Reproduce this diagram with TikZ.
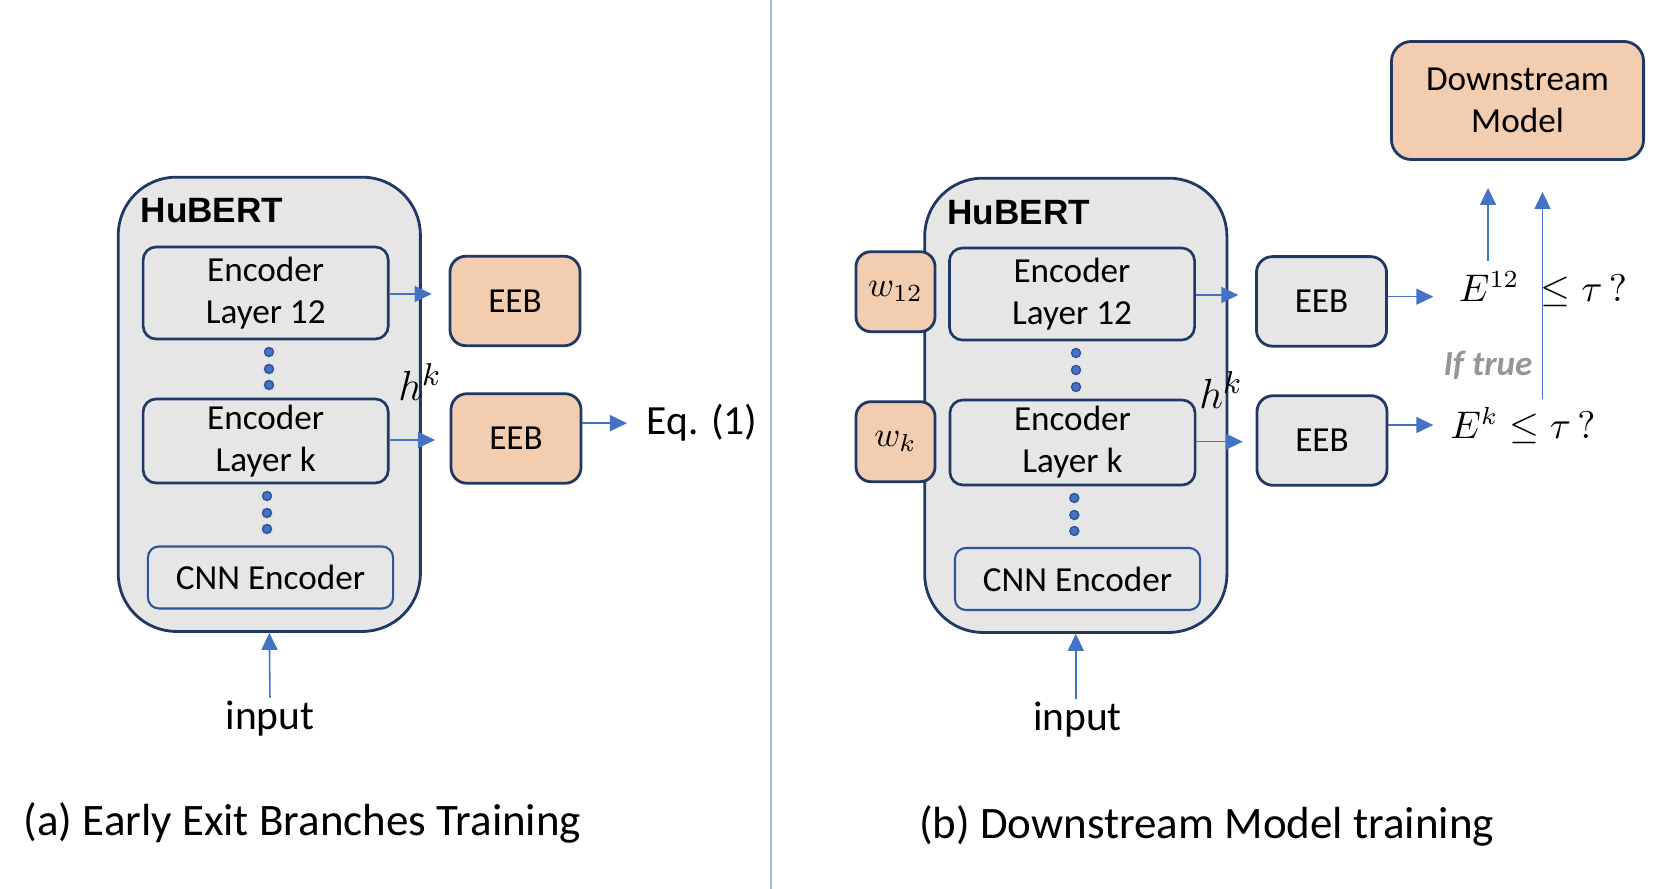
\documentclass[tikz,border=0pt]{standalone}
\usepackage{amsmath}
\usepackage{fontspec}
\setmainfont{Carlito}
\newfontfamily\arialfont{Liberation Sans}
\usepackage{tikz}
\usepackage{xcolor}
\usetikzlibrary{arrows.meta, positioning, calc}
\definecolor{cNavy}{RGB}{32,56,100}
\definecolor{cCnn}{RGB}{47,85,151}
\definecolor{cArrow}{RGB}{68,114,196}
\definecolor{cGrey}{RGB}{231,230,230}
\definecolor{cPeach}{RGB}{243,205,176}
\definecolor{cRule}{RGB}{168,186,224}
\definecolor{cTrue}{RGB}{150,150,150}
\tikzset{
	hubert/.style   ={rectangle, rounded corners=0.58cm, minimum width=3.02cm, minimum height=4.54cm, draw=cNavy, line width=0.8pt, fill=cGrey},
	hublabel/.style ={inner sep=0pt, font=\arialfont\bfseries\fontsize{10}{12}\selectfont},
	encbox/.style   ={rectangle, rounded corners=0.13cm, minimum width=2.45cm, text centered, align=center, inner sep=0pt, draw=cNavy, line width=0.75pt, fill=cGrey, font=\fontsize{10}{11.9}\selectfont},
	cnnbox/.style   ={rectangle, rounded corners=0.11cm, minimum width=2.45cm, minimum height=0.62cm, text centered, draw=cCnn, line width=0.6pt, fill=cGrey, font=\fontsize{10}{12}\selectfont},
	eeb/.style      ={rectangle, rounded corners=0.16cm, minimum width=1.3cm, minimum height=0.895cm, text centered, draw=cNavy, line width=0.8pt, font=\fontsize{10}{12}\selectfont},
	wbox/.style     ={rectangle, rounded corners=0.15cm, minimum width=0.79cm, minimum height=0.8cm, text centered, draw=cNavy, line width=0.8pt, fill=cPeach, font=\fontsize{10}{12}\selectfont},
	modelbox/.style ={rectangle, rounded corners=0.2cm, minimum width=2.52cm, minimum height=1.18cm, text centered, align=center, draw=cNavy, line width=0.8pt, fill=cPeach, font=\fontsize{10}{11.9}\selectfont},
	vdot/.style     ={circle, minimum size=0.09cm, inner sep=0pt, draw=cCnn, line width=0.4pt, fill=cArrow},
	flowarrow/.style={-{Triangle[length=1.7mm, width=1.6mm]}, draw=cArrow, line width=0.45pt},
	% plain labels
	txt/.style      ={inner sep=0pt, font=\fontsize{11.8}{14}\selectfont},
	mathlbl/.style  ={inner sep=0pt, font=\fontsize{10.5}{12}\selectfont},
	caption/.style  ={inner sep=0pt, font=\fontsize{12.8}{15}\selectfont},
}
\begin{document}
\begin{tikzpicture}[x=0.01cm, y=-0.01cm]
	\useasboundingbox (0,0) rectangle (1661,889);
	\coordinate (ruleTop) at (771,0);
	\coordinate (ruleBot) at (771,889);
	\draw[cRule, line width=0.6pt] (ruleTop) -- (ruleBot);

	% (a) early exit branches
	\node[hubert] (hubA) at (269.3,404.3) {};
	\node[hublabel, anchor=west] (hubAname) at (140,211) {HuBERT};
	\node[encbox, minimum height=0.92cm] (encA12) at (265.7,293) {Encoder\\Layer 12};
	\node[encbox, minimum height=0.84cm] (encAk) at (265.7,441) {Encoder\\Layer k};
	\node[cnnbox] (cnnA) at (270.5,577.5) {CNN Encoder};
	\foreach \i/\y in {1/352, 2/369, 3/385} \node[vdot] (dAu\i) at (269,\y) {};
	\foreach \i/\y in {1/496, 2/513, 3/529} \node[vdot] (dAl\i) at (267,\y) {};
	\node[eeb, fill=cPeach] (eebA12) at (515,301) {EEB};
	\node[eeb, fill=cPeach] (eebAk) at (516,438.5) {EEB};
	\node[mathlbl, font=\fontsize{12.5}{14}\selectfont] (hA) at (420,382) {$h^k$};
	\node[txt, anchor=base west] (eqA) at (646,435) {Eq. (1)};
	\node[txt, anchor=base] (inA) at (270,730) {input};
	\coordinate (tipA12) at (431.7,294);
	\coordinate (tipAk) at (435,440);
	\draw[flowarrow] (encA12.east |- tipA12) -- (tipA12);
	\draw[flowarrow] (encAk.east |- tipAk) -- (tipAk);
	\draw[flowarrow, shorten >=0.19cm] (eebAk.east |- eqA.west) -- (eqA.west);
	\draw[flowarrow, shorten <=0.03cm] (inA.north) -- (hubA.south);
	\node[caption, anchor=base] (capA) at (302.5,836) {(a) Early Exit Branches Training};

	% (b) downstream model
	\node[hubert] (hubB) at (1075.8,405.3) {};
	\node[hublabel, anchor=west] (hubBname) at (946.7,213) {HuBERT};
	\node[encbox, minimum height=0.92cm] (encB12) at (1072,294) {Encoder\\Layer 12};
	\node[encbox, minimum height=0.85cm] (encBk) at (1072.5,442.5) {Encoder\\Layer k};
	\node[cnnbox] (cnnB) at (1077.5,579) {CNN Encoder};
	\foreach \i/\y in {1/353, 2/370, 3/387} \node[vdot] (dBu\i) at (1076,\y) {};
	\foreach \i/\y in {1/498, 2/515, 3/531} \node[vdot] (dBl\i) at (1074.3,\y) {};
	\node[wbox] (wB12) at (895.5,291.7) {$w_{12}$};
	\node[wbox] (wBk) at (895.5,441.7) {$w_k$};
	\node[eeb, fill=cGrey] (eebB12) at (1321.5,301.4) {EEB};
	\node[eeb, fill=cGrey] (eebBk) at (1322,440.5) {EEB};
	\node[mathlbl, font=\fontsize{12.5}{14}\selectfont] (hB) at (1221,390) {$h^k$};
	\node[mathlbl] (ex12) at (1543,289) {$E^{12}\;\leq\tau\,?$};
	\node[mathlbl] (exk) at (1523,426) {$E^{k}\leq\tau\,?$};
	\node[mathlbl, font=\fontsize{10}{12}\selectfont, text=cTrue] (iftrue) at (1488,365) {\textbf{\textit{If true}}};
	\node[modelbox] (dsm) at (1517.5,100.5) {Downstream\\Model};
	\node[txt, anchor=base] (inB) at (1077.5,731) {input};
	\coordinate (tipB12) at (1238.3,295);
	\coordinate (tipBk) at (1242.7,441.7);
	\coordinate (tipE12) at (1433.3,296.7);
	\coordinate (tipEk) at (1433.3,425);
	\coordinate (upA) at (1488,0);
	\coordinate (upB) at (1542.5,0);
	\draw[flowarrow] (encB12.east |- tipB12) -- (tipB12);
	\draw[flowarrow] (encBk.east |- tipBk) -- (tipBk);
	\draw[flowarrow] (eebB12.east |- tipE12) -- (tipE12);
	\draw[flowarrow] (eebBk.east |- tipEk) -- (tipEk);
	\draw[flowarrow, shorten <=0.1cm, shorten >=0.27cm] (ex12.north -| upA) -- (dsm.south -| upA);
	\draw[flowarrow, shorten <=0.08cm, shorten >=0.31cm] (exk.north -| upB) -- (dsm.south -| upB);
	\draw[flowarrow, shorten <=0.03cm] (inB.north -| hubB.south) -- (hubB.south);
	\node[caption, anchor=base] (capB) at (1206.5,838) {(b) Downstream Model training};
\end{tikzpicture}
\end{document}
